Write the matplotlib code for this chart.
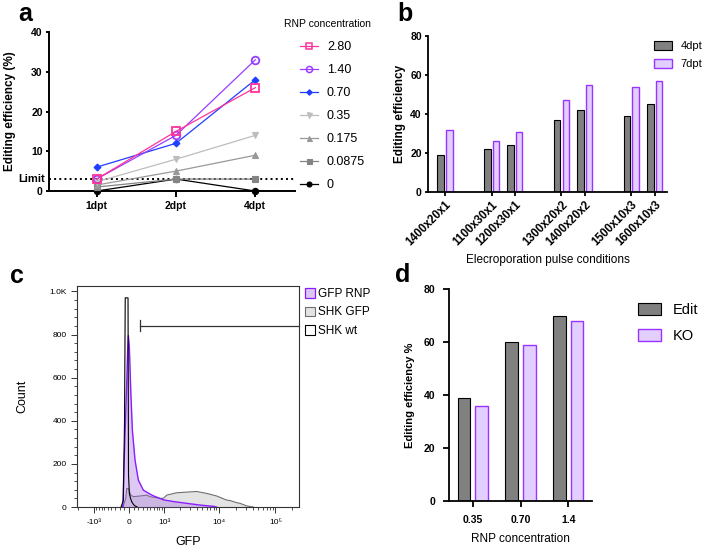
import numpy as np
import matplotlib
matplotlib.use("Agg")
import matplotlib.pyplot as plt
from matplotlib.patches import Patch
from matplotlib.lines import Line2D
from matplotlib.ticker import AutoMinorLocator
from matplotlib.transforms import blended_transform_factory

plt.rcParams['font.family'] = ['Liberation Sans', 'DejaVu Sans']

# ---- panel a: editing efficiency over time per RNP concentration
days = ["1dpt", "2dpt", "4dpt"]
rnp_levels = ["2.80", "1.40", "0.70", "0.35", "0.175", "0.0875", "0"]
eff_280 = [3, 15, 26]
eff_140 = [3, 14, 33]
eff_070 = [6, 12, 28]
eff_035 = [2.3, 8, 14]
eff_0175 = [1.5, 5, 9]
eff_00875 = [1, 3, 3]
eff_0 = [0, 3, 0]
limit = 3

# ---- panel b: pulse conditions
pulse_conditions = ["1400x20x1", "1100x30x1", "1200x30x1", "1300x20x2",
                    "1400x20x2", "1500x10x3", "1600x10x3"]
pulse_group = [0, 1, 1, 2, 2, 3, 3]
b_4dpt = [19, 22, 24, 37, 42, 39, 45]
b_7dpt = [32, 26, 31, 47, 55, 54, 57]

# ---- panel c: flow histograms (GFP value, count)
rnp_gfp_x = [-140, -132, -100, -77, -48, -30, -15, 6, 35, 69, 125, 198, 314,
             490, 590, 970, 1540, 2650, 4600, 6000, 8000, 9000]
rnp_gfp_y = [0, 0, 230, 383, 585, 720, 795, 739, 539, 355, 217, 124, 78,
             60, 52, 33, 25, 17, 9, 6, 3, 0]
shk_gfp_x = [-130, -125, -70, -48, -15, 35, 89, 236, 399, 490, 827, 967, 1128,
             1539, 1742, 2652, 4003, 6045, 9093, 13706, 15646, 20625, 23571,
             30988, 38000, 40538]
shk_gfp_y = [0, 0, 40, 86, 86, 55, 48, 51, 55, 48, 40, 40, 55,
             63, 66, 69, 72, 63, 51, 32, 30, 20, 17, 5, 1, 0]
shk_wt_x = [-170, -120, -95, -80, -22, -12, 6, 30, 55, 90, 125, 170]
shk_wt_y = [0, 30, 400, 970, 970, 150, 63, 40, 25, 12, 5, 0]
gate_low = 230
gate_count = 840

# ---- panel d
rnp_d = ["0.35", "0.70", "1.4"]
d_edit = [39, 60, 70]
d_ko = [36, 59, 68]

W, H = 706, 547
fig = plt.figure(figsize=(W / 100, H / 100), dpi=100)


def box(l, t, r, b):
    return [l / W, 1 - b / H, (r - l) / W, (b - t) / H]


def prism_axes(ax, lw=1.3, length=2.5, pad=2):
    ax.spines['top'].set_visible(False)
    ax.spines['right'].set_visible(False)
    ax.spines['left'].set_linewidth(lw)
    ax.spines['bottom'].set_linewidth(lw)
    ax.tick_params(width=lw, length=length, pad=pad, direction='out')


GRAY = '#808080'
PURP = '#9933ff'
PURP_FILL = '#e2cfff'

# ================= a
ax = fig.add_axes(box(49, 32, 295, 191))
prism_axes(ax, 1.4)
ax.tick_params(axis='x', length=4, pad=3)
series = [eff_280, eff_140, eff_070, eff_035, eff_0175, eff_00875, eff_0]
colors = ['#ff3399', '#9a3cff', '#1f3dff', '#bdbdbd', '#999999', '#848484', '#000000']
markers = ['s', 'o', 'D', 'v', '^', 's', 'o']
msizes = [5.5, 5.5, 3.5, 4.5, 4.5, 4.5, 4.5]
hollow = [True, True, False, False, False, False, False]
xs = np.arange(len(days))
handles = []
for i in reversed(range(len(series))):
    kw = dict(color=colors[i], marker=markers[i], ms=msizes[i], lw=0.9,
              mec=colors[i], mew=1.3 if hollow[i] else 0.8,
              mfc='none' if hollow[i] else colors[i])
    ax.plot(xs, series[i], clip_on=False, zorder=3 + len(series) - i, **kw)
for i in range(len(series)):
    handles.append(Line2D([], [], color=colors[i], marker=markers[i],
                          ms=msizes[i] * 0.8, lw=0.9, mec=colors[i],
                          mew=1.1 if hollow[i] else 0.8,
                          mfc='none' if hollow[i] else colors[i]))
ax.axhline(limit, color='black', ls=':', lw=1.4, zorder=2)
tr = blended_transform_factory(ax.transAxes, ax.transData)
ax.text(-0.015, limit, "Limit", transform=tr, ha='right', va='center',
        fontsize=8, fontweight='bold')
ax.set_xlim(-0.6, 2.5)
ax.set_ylim(0, 40)
ax.set_yticks([0, 10, 20, 30, 40])
ax.set_xticks(xs)
ax.set_xticklabels(days)
for lab in ax.get_xticklabels() + ax.get_yticklabels():
    lab.set_fontweight('bold')
    lab.set_fontsize(7.5)
ax.set_ylabel("Editing efficiency (%)", fontsize=8.5, fontweight='bold', labelpad=11)
fig.text(284 / W, 1 - 27 / H, "RNP concentration", fontsize=7.5)
fig.legend(handles, rnp_levels, loc='upper left',
           bbox_to_anchor=(300 / W, 1 - 41 / H), frameon=False, fontsize=9,
           handlelength=1.45, handletextpad=0.7, labelspacing=0.88,
           borderpad=0, borderaxespad=0)

# ================= b
ax = fig.add_axes(box(428, 36, 667, 192))
prism_axes(ax, 1.3)
pos = np.arange(len(pulse_conditions)) + np.array(pulse_group)
bw = 0.28
ax.bar(pos - 0.185, b_4dpt, bw, color=GRAY, edgecolor='black', lw=0.8, label="4dpt")
ax.bar(pos + 0.185, b_7dpt, bw, color=PURP_FILL, edgecolor=PURP, lw=1.0, label="7dpt")
ax.set_xlim(-0.73, 9.53)
ax.set_ylim(0, 80)
ax.set_yticks([0, 20, 40, 60, 80])
ax.set_xticks(pos)
ax.set_xticklabels(pulse_conditions, rotation=45, ha='right', rotation_mode='anchor')
ax.tick_params(axis='x', length=3)
for lab in ax.get_yticklabels():
    lab.set_fontweight('bold')
    lab.set_fontsize(7.5)
for lab in ax.get_xticklabels():
    lab.set_fontweight('bold')
    lab.set_fontsize(8.3)
ax.set_ylabel("Editing efficiency", fontsize=8.5, fontweight='bold', labelpad=3)
ax.set_xlabel("Elecroporation pulse conditions", fontsize=8.5, labelpad=4)
ax.legend(loc='upper left', bbox_to_anchor=(654 / W, 1 - 41 / H),
          bbox_transform=fig.transFigure, frameon=False, fontsize=8,
          handlelength=1.6, handleheight=0.9, handletextpad=0.8,
          labelspacing=0.65, borderpad=0, borderaxespad=0)

# ================= c
ax = fig.add_axes(box(77, 286, 299, 507))
C = 508.0
ax.set_xscale('function', functions=(lambda v: np.arcsinh(np.asarray(v) / C),
                                     lambda u: C * np.sinh(np.asarray(u))))
ax.fill_between(shk_gfp_x, shk_gfp_y, color='#e3e3e3', lw=0, zorder=1)
ax.plot(shk_gfp_x, shk_gfp_y, color='#6e6e6e', lw=0.8, zorder=2)
ax.fill_between(rnp_gfp_x, rnp_gfp_y, color='#a066e0', alpha=0.35, lw=0, zorder=3)
ax.plot(rnp_gfp_x, rnp_gfp_y, color='#8a1cff', lw=1.0, zorder=4)
ax.plot(shk_wt_x, shk_wt_y, color='black', lw=0.8, zorder=5)
xmax = 262000
ax.plot([gate_low, xmax], [gate_count, gate_count], color='#333333', lw=0.9,
        clip_on=False, zorder=6)
ax.plot([gate_low, gate_low], [gate_count - 25, gate_count + 25], color='#333333',
        lw=0.9, zorder=6)
ax.set_xlim(-2100, xmax)
ax.set_ylim(0, 1025)
ax.set_xticks([-1000, 0, 1000, 10000, 100000])
ax.set_xticklabels(["-10³", "0", "10³", "10⁴", "10⁵"])
minor = [-2000] + [-k * 100 for k in range(1, 10)] + [k * 100 for k in range(1, 10)] \
    + [k * 1000 for k in range(2, 10)] + [k * 10000 for k in range(2, 10)] + [200000]
ax.set_xticks(minor, minor=True)
ax.set_yticks([0, 200, 400, 600, 800, 1000])
ax.set_yticklabels(["0", "200", "400", "600", "800", "1.0K"])
ax.yaxis.set_minor_locator(AutoMinorLocator(5))
for s in ax.spines.values():
    s.set_linewidth(0.8)
    s.set_color('#333333')
ax.tick_params(which='major', length=4, width=0.7, labelsize=6, color='#333333')
ax.tick_params(axis='x', which='major', pad=5)
ax.tick_params(which='minor', length=2, width=0.6, color='#333333')
ax.set_ylabel("Count", fontsize=9, labelpad=15)
ax.set_xlabel("GFP", fontsize=9, labelpad=7)
c_handles = [Patch(facecolor='#dcc6f3', edgecolor='#8a1cff', lw=0.9),
             Patch(facecolor='#e3e3e3', edgecolor='#6e6e6e', lw=0.8),
             Patch(facecolor='white', edgecolor='black', lw=0.8)]
fig.legend(c_handles, ["GFP RNP", "SHK GFP", "SHK wt"], loc='upper left',
           bbox_to_anchor=(305 / W, 1 - 288 / H), frameon=False, fontsize=8.5,
           handlelength=0.85, handleheight=0.85, handletextpad=0.25,
           labelspacing=0.55, borderpad=0, borderaxespad=0)

# ================= d
ax = fig.add_axes(box(449, 289, 592, 501))
prism_axes(ax, 1.3, length=4.3, pad=5.5)
xd = np.arange(len(rnp_d))
ax.bar(xd - 0.185, d_edit, 0.26, color=GRAY, edgecolor='black', lw=0.8, label="Edit")
ax.bar(xd + 0.185, d_ko, 0.26, color=PURP_FILL, edgecolor=PURP, lw=1.0, label="KO")
ax.set_xlim(-0.5, 2.5)
ax.set_ylim(0, 80)
ax.set_yticks([0, 20, 40, 60, 80])
ax.set_xticks(xd)
ax.set_xticklabels(rnp_d)
for lab in ax.get_xticklabels() + ax.get_yticklabels():
    lab.set_fontweight('bold')
    lab.set_fontsize(7.5)
ax.set_ylabel("Editing efficiency %", fontsize=8, fontweight='bold', labelpad=6)
ax.set_xlabel("RNP concentration", fontsize=8.5, labelpad=6)
ax.legend(loc='upper left', bbox_to_anchor=(638 / W, 1 - 303 / H),
          bbox_transform=fig.transFigure, frameon=False, fontsize=10.5,
          handlelength=1.6, handleheight=0.87, handletextpad=0.8,
          labelspacing=0.8, borderpad=0, borderaxespad=0)

# panel letters
for letter, x, y in [("a", 18, 21), ("b", 397, 21), ("c", 10, 283), ("d", 395, 282)]:
    fig.text(x / W, 1 - y / H, letter, fontsize=18, fontweight='bold', va='baseline')

fig.savefig("out.png", dpi=100)
